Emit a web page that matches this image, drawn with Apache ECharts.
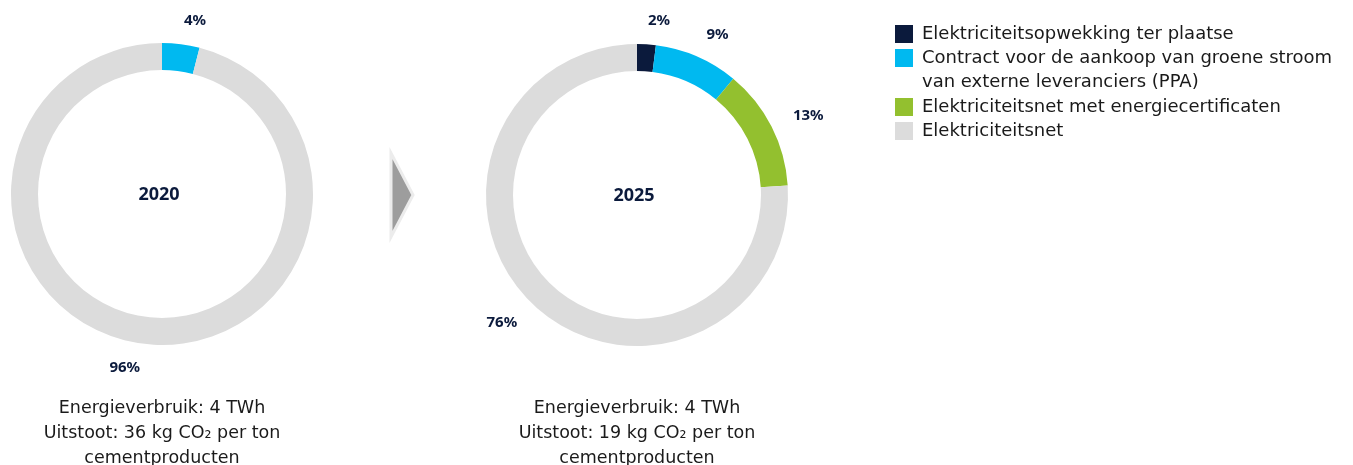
<!DOCTYPE html>
<html>
<head>
<meta charset="utf-8">
<script src="https://cdn.jsdelivr.net/npm/echarts@6/dist/echarts.min.js"></script>
<style>
  html, body { margin: 0; padding: 0; background: #fff; }
  #chart { width: 1353px; height: 465px; }
</style>
</head>
<body>
<div id="chart"></div>
<script>
// categorieën en waarden (aandeel in %)
const categories = [
  'Elektriciteitsopwekking ter plaatse',
  'Contract voor de aankoop van groene stroom van externe leveranciers (PPA)',
  'Elektriciteitsnet met energiecertificaten',
  'Elektriciteitsnet'
];
const colors = ['#0b1a3c', '#00b9f0', '#93c02f', '#dcdcdc'];
const values2020 = [0, 4, 0, 96];
const values2025 = [2, 9, 13, 76];
const years = ['2020', '2025'];
const footers = [
  'Energieverbruik: 4 TWh\nUitstoot: 36 kg CO₂ per ton\ncementproducten',
  'Energieverbruik: 4 TWh\nUitstoot: 19 kg CO₂ per ton\ncementproducten'
];

const FONT = 'DejaVu Sans';
const BOLD_FONT = 'Noto Sans';
const centers = [[162, 194], [637, 195]];

function ringData(vals) {
  return categories.map((c, i) => ({
    name: c, value: vals[i], itemStyle: { color: colors[i] }
  })).filter(d => d.value > 0);
}

function ring(vals, center) {
  return {
    type: 'pie',
    center: center,
    radius: [124, 151],
    startAngle: 90,
    clockwise: true,
    avoidLabelOverlap: false,
    label: {
      show: true,
      position: 'outside',
      formatter: '{c}%',
      distanceToLabelLine: 0,
      color: '#0b1a3c',
      fontFamily: BOLD_FONT,
      fontWeight: 'bold',
      fontSize: 15
    },
    labelLine: { show: false, length: 24, length2: 0 },
    emphasis: { disabled: true },
    data: ringData(vals)
  };
}

const legendTops = [22, 22, 95, 119];
const legends = categories.map((c, i) => ({
  data: [c],
  orient: 'vertical',
  left: 895,
  top: legendTops[i],
  padding: 0,
  icon: 'rect',
  itemWidth: 18,
  itemHeight: 18,
  selectedMode: false,
  // tweede item loopt over twee regels, icoon bij de eerste regel
  formatter: i === 1
    ? '\nContract voor de aankoop van groene stroom\nvan externe leveranciers (PPA)'
    : '{name}',
  textStyle: {
    fontFamily: FONT,
    fontSize: 18,
    color: '#1a1a1a',
    lineHeight: 24,
    padding: [0, 0, 0, 4]
  }
}));

const titles = [];
years.forEach((y, i) => {
  titles.push({
    text: y,
    left: centers[i][0] - 3,
    top: centers[i][1] - 8,
    textAlign: 'center',
    padding: 0,
    textStyle: { fontFamily: BOLD_FONT, fontSize: 18, fontWeight: 'bold', color: '#0b1a3c' }
  });
  titles.push({
    text: footers[i],
    left: centers[i][0],
    top: 396,
    textAlign: 'center',
    padding: 0,
    textStyle: { fontFamily: FONT, fontSize: 17.5, fontWeight: 'normal', color: '#1a1a1a', lineHeight: 25 }
  });
});

const option = {
  backgroundColor: '#fff',
  animation: false,
  title: titles,
  legend: legends,
  graphic: [{
    type: 'polygon',
    shape: { points: [[391, 153], [391, 237], [413, 195]] },
    style: { fill: '#9d9d9d', stroke: '#ececec', lineWidth: 3 }
  }],
  series: [
    ring(values2020, centers[0]),
    ring(values2025, centers[1])
  ]
};

const chart = echarts.init(document.getElementById('chart'));
chart.setOption(option);
</script>
</body>
</html>
